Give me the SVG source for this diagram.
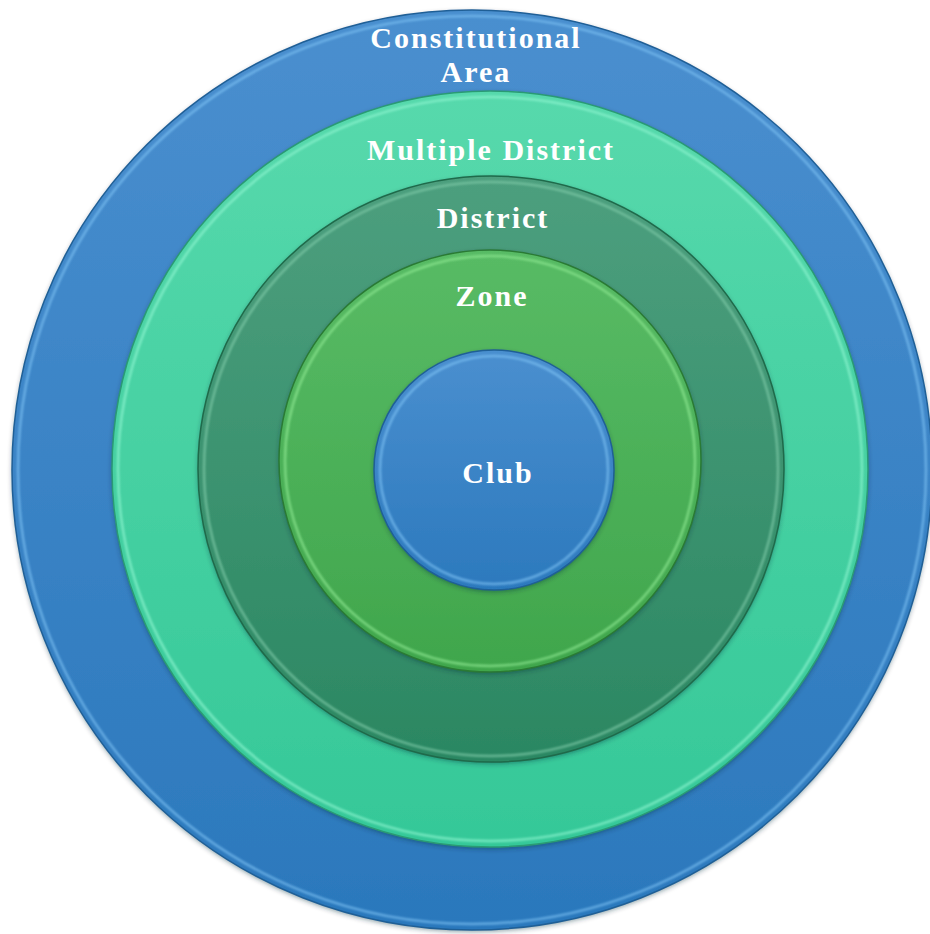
<svg xmlns="http://www.w3.org/2000/svg" width="930" height="934" viewBox="0 0 930 934">
  <style>
    .label { font-family: "Liberation Serif", "DejaVu Serif", serif; font-weight: bold; font-size: 30px; letter-spacing: 2px; fill: #ffffff; text-anchor: middle; }
    .edge { fill: none; stroke-width: 1.5; }
    .rim { fill: none; stroke-width: 2.5; opacity: 0.7; filter: url(#soft); }
  </style>
  <defs>
    <filter id="soft" x="-5%" y="-5%" width="110%" height="110%">
      <feGaussianBlur stdDeviation="1.2"/>
    </filter>
    <filter id="shade" x="-5%" y="-5%" width="110%" height="110%">
      <feDropShadow dx="0" dy="2" stdDeviation="2.5" flood-color="#0a2a3a" flood-opacity="0.45"/>
    </filter>
    <linearGradient id="gBlue" x1="0" y1="0" x2="0" y2="1">
      <stop offset="0" stop-color="#4a8fcf"/>
      <stop offset="1" stop-color="#2b78bc"/>
    </linearGradient>
    <linearGradient id="gMint" x1="0" y1="0" x2="0" y2="1">
      <stop offset="0" stop-color="#57d9ac"/>
      <stop offset="1" stop-color="#35c898"/>
    </linearGradient>
    <linearGradient id="gForest" x1="0" y1="0" x2="0" y2="1">
      <stop offset="0" stop-color="#4d9f7e"/>
      <stop offset="1" stop-color="#2b8762"/>
    </linearGradient>
    <linearGradient id="gGrass" x1="0" y1="0" x2="0" y2="1">
      <stop offset="0" stop-color="#58bb65"/>
      <stop offset="1" stop-color="#40a64c"/>
    </linearGradient>
    <linearGradient id="gCore" x1="0" y1="0" x2="0" y2="1">
      <stop offset="0" stop-color="#4a8fcf"/>
      <stop offset="1" stop-color="#2c79bd"/>
    </linearGradient>
  </defs>

  <rect width="930" height="934" fill="#ffffff"/>

  <!-- outermost ring -->
  <g id="constitutional-area">
    <circle cx="472" cy="470" r="460" fill="url(#gBlue)" filter="url(#shade)"/>
    <circle class="edge" cx="472" cy="470" r="460" stroke="#1f5f96"/>
    <circle class="rim" cx="472" cy="470" r="454" stroke="#7cc0f2"/>
    <text class="label" x="476" y="48">Constitutional</text>
    <text class="label" x="476" y="82">Area</text>
  </g>

  <g id="multiple-district">
    <circle cx="490" cy="469" r="378" fill="url(#gMint)" filter="url(#shade)"/>
    <circle class="edge" cx="490" cy="469" r="378" stroke="#2a9a74"/>
    <circle class="rim" cx="490" cy="469" r="372" stroke="#8ff5d0"/>
    <text class="label" x="491" y="160">Multiple District</text>
  </g>

  <g id="district">
    <circle cx="491" cy="469" r="293" fill="url(#gForest)" filter="url(#shade)"/>
    <circle class="edge" cx="491" cy="469" r="293" stroke="#1f6a4a"/>
    <circle class="rim" cx="491" cy="469" r="287" stroke="#7fcaa8"/>
    <text class="label" x="493" y="228">District</text>
  </g>

  <g id="zone">
    <circle cx="490" cy="461" r="211" fill="url(#gGrass)" filter="url(#shade)"/>
    <circle class="edge" cx="490" cy="461" r="211" stroke="#2a7a34"/>
    <circle class="rim" cx="490" cy="461" r="205" stroke="#8ee892"/>
    <text class="label" x="492" y="306">Zone</text>
  </g>

  <g id="club">
    <circle cx="494" cy="470" r="120" fill="url(#gCore)" filter="url(#shade)"/>
    <circle class="edge" cx="494" cy="470" r="120" stroke="#1f5f96"/>
    <circle class="rim" cx="494" cy="470" r="114" stroke="#7cc0f2"/>
    <text class="label" x="498" y="483">Club</text>
  </g>
</svg>
